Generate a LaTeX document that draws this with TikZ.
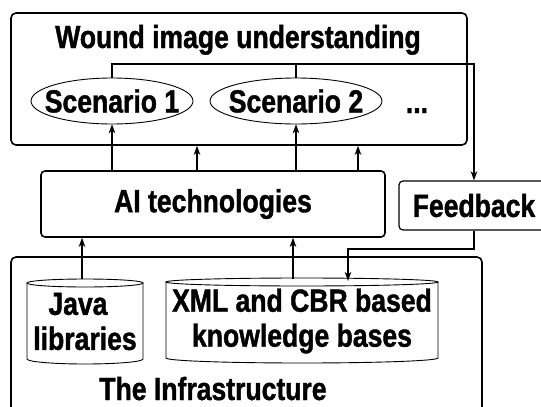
\documentclass[tikz,border=0pt]{standalone}
\usepackage{fontspec}
\setmainfont{Liberation Sans}[FakeStretch=0.83, BoldFeatures={FakeBold=1.2}]
\usetikzlibrary{arrows.meta}

\tikzset{
  txt/.style={font=\fontsize{32}{35}\selectfont\bfseries},
  lbl/.style={txt, inner sep=0pt},
  panel/.style={draw, line width=1.6pt, rounded corners=5pt, inner sep=0pt},
  cylbox/.style={txt, inner sep=0pt, align=center},
  thin/.style={line width=0.9pt},
  link/.style={line width=1.6pt},
  arr/.style={line width=1.6pt, -{Stealth[length=9pt,width=6.5pt,inset=2.5pt]}},
}

\begin{document}
\begin{tikzpicture}[x=1pt,y=-1pt]
  \useasboundingbox (0,0) rectangle (541,407);
  \clip (0,0) rectangle (541,407);
  \fill[white] (0,0) rectangle (541,407);

  % top layer: wound image understanding
  \node[panel, minimum width=456pt, minimum height=132pt] (wiu) at (239,79) {};
  \node[lbl, anchor=base] (wiut) at (238,48) {Wound image understanding};
  \node[lbl, minimum width=162pt, minimum height=46pt] (s1) at (112,101) {Scenario 1};
  \node[lbl, minimum width=172pt, minimum height=46pt] (s2) at (296,101) {Scenario 2};
  \draw[thin] (s1.center) ellipse[x radius=81, y radius=23];
  \draw[thin] (s2.center) ellipse[x radius=86, y radius=23];
  \node[lbl, anchor=base] (more) at (417,113) {...};

  % middle layer
  \node[panel, txt, rounded corners=4pt, minimum width=344pt, minimum height=66pt]
        (ai) at (213,204) {AI technologies};
  \node[panel, txt, line width=1.2pt, rounded corners=4pt, minimum width=150pt,
        minimum height=49pt] (fb) at (474,205.5) {Feedback};

  % bottom layer: the infrastructure
  \node[panel, minimum width=471pt, minimum height=168pt] (inf) at (246.5,341) {};
  \node[lbl, anchor=base] (inft) at (213,400) {The Infrastructure};

  \node[cylbox, minimum width=116pt, minimum height=85pt] (java) at (85,321.5)
       {Java\kern14pt\\libraries};
  \node[cylbox, minimum width=272pt, minimum height=86pt] (xml) at (302,321)
       {XML and CBR based\\knowledge bases};

  % cylinder outlines
  \draw[thin] (27,283) -- (27,359) arc[start angle=180,end angle=0,x radius=58,y radius=5] -- (143,283);
  \draw[thin] (85,283) ellipse[x radius=58,y radius=4];
  \draw[thin] (166,282) -- (166,358) arc[start angle=180,end angle=0,x radius=136,y radius=5] -- (438,282);
  \draw[thin] (302,282) ellipse[x radius=136,y radius=4];

  % connection points
  \coordinate (up1) at (197,0);
  \coordinate (up2) at (358,0);
  \coordinate (hl) at (474,64);
  \coordinate (fbk) at (348,249);
  \coordinate (xmlin) at (348,281);
  \coordinate (javaup) at (82,279);
  \coordinate (xmlup) at (293,278.5);

  % AI technologies to the scenarios and the top layer
  \draw[arr] (ai.north -| s1.south) -- (s1.south);
  \draw[arr] (ai.north -| s2.south) -- (s2.south);
  \draw[arr] (ai.north -| up1) -- (wiu.south -| up1);
  \draw[arr] (ai.north -| up2) -- (wiu.south -| up2);

  % scenarios to feedback
  \draw[arr] (s1.north) |- (hl) -- (fb.north);
  \draw[link] (s2.north) -- (s2.north |- hl);

  % feedback into the knowledge bases
  \draw[arr] (fb.south) |- (fbk) -- (xmlin);

  % infrastructure up to AI technologies
  \draw[arr] (javaup) -- (javaup |- ai.south);
  \draw[arr] (xmlup) -- (xmlup |- ai.south);
\end{tikzpicture}
\end{document}
